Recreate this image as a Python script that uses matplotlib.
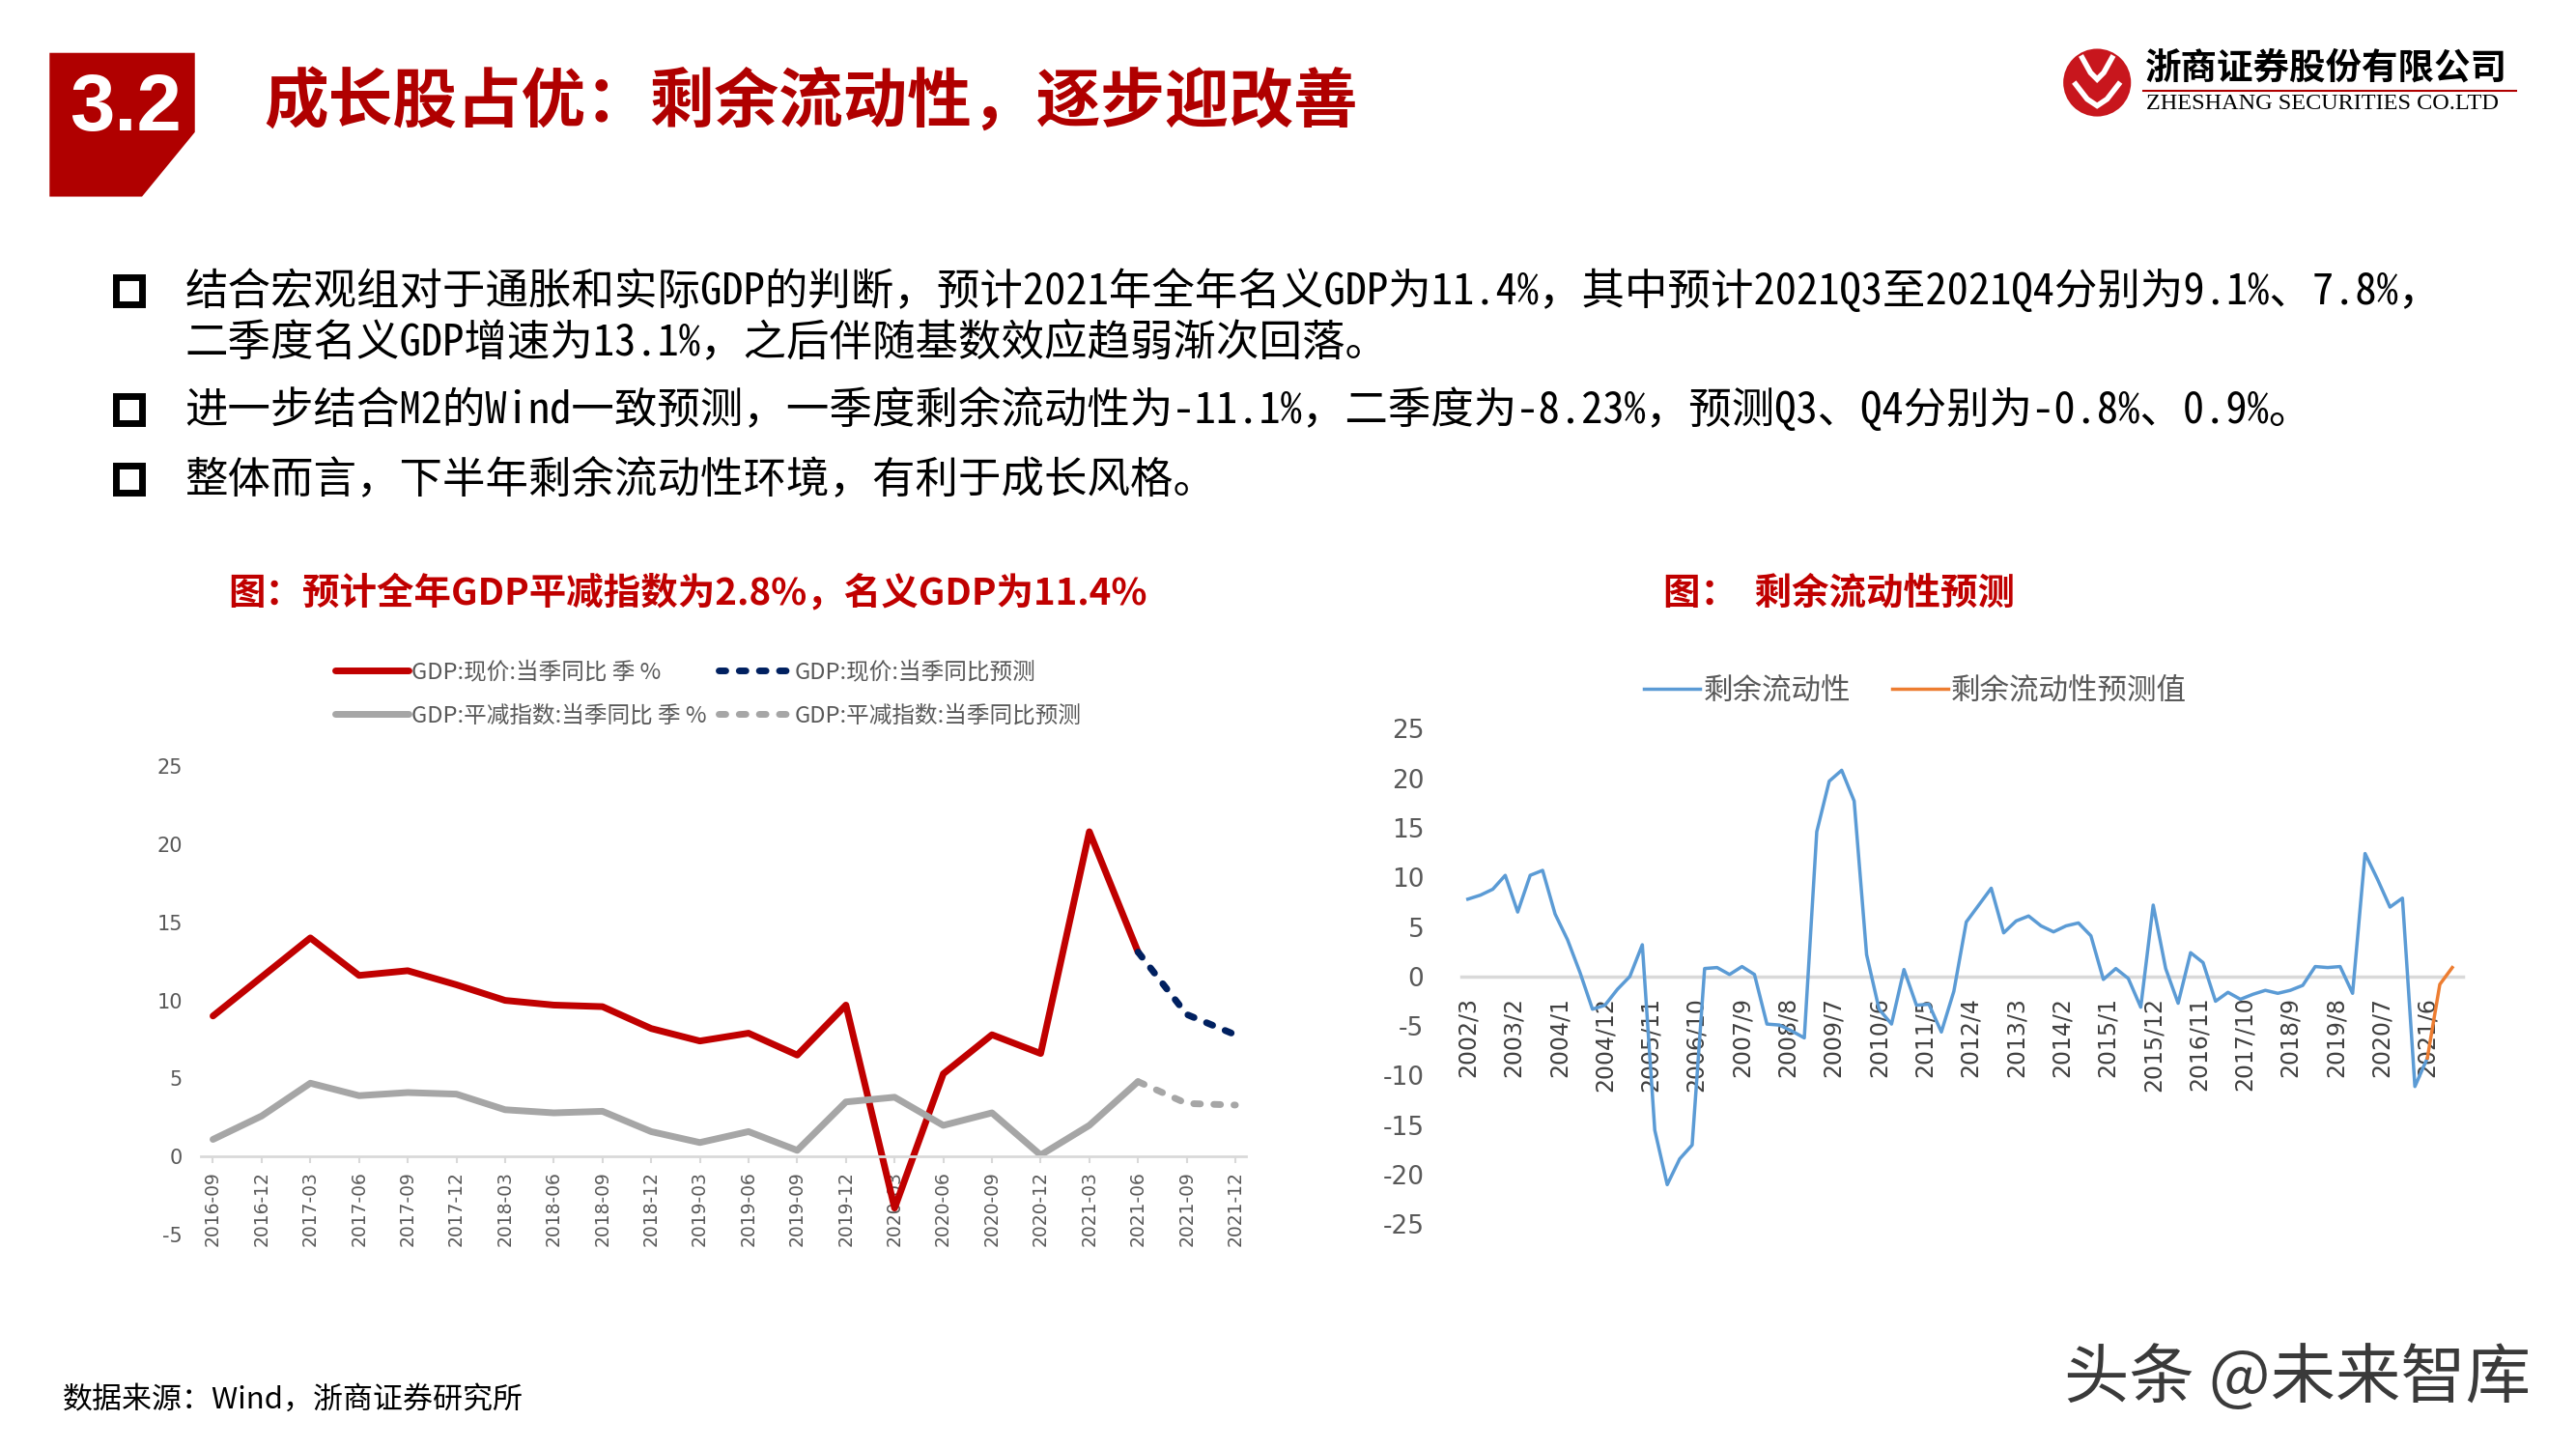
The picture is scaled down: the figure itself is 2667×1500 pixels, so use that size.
import matplotlib
matplotlib.use('Agg')
import matplotlib.pyplot as plt
from matplotlib.patches import Polygon, Rectangle, Ellipse
from matplotlib.lines import Line2D
import numpy as np

plt.rcParams['font.family'] = ['Noto Sans CJK SC', 'DejaVu Sans']
plt.rcParams['axes.unicode_minus'] = False

# ---------------- data ----------------
gdp_quarters = ['2016-09', '2016-12', '2017-03', '2017-06', '2017-09', '2017-12',
                '2018-03', '2018-06', '2018-09', '2018-12', '2019-03', '2019-06',
                '2019-09', '2019-12', '2020-03', '2020-06', '2020-09', '2020-12',
                '2021-03', '2021-06', '2021-09', '2021-12']
nominal_gdp = [9.0, 11.5, 14.0, 11.6, 11.9, 11.0, 10.0, 9.7, 9.6, 8.2, 7.4, 7.9,
               6.5, 9.7, -3.3, 5.3, 7.8, 6.6, 20.8, 13.1]
nominal_gdp_forecast = [13.1, 9.1, 7.8]          # 2021-06 .. 2021-12
deflator = [1.1, 2.6, 4.7, 3.9, 4.1, 4.0, 3.0, 2.8, 2.9, 1.6, 0.9, 1.6,
            0.4, 3.5, 3.8, 2.0, 2.8, 0.1, 2.0, 4.8]
deflator_forecast = [4.8, 3.4, 3.3]              # 2021-06 .. 2021-12

# quarterly excess liquidity, 2002/3 .. 2021/6
liquidity = [7.8, 8.2, 8.8, 10.2, 6.5, 10.2, 10.7, 6.3, 3.7, 0.4, -3.3, -2.9,
             -1.3, 0.0, 3.2, -15.5, -21.0, -18.4, -17.0, 0.8, 0.9, 0.2, 1.0, 0.2,
             -4.8, -4.9, -5.5, -6.2, 14.6, 19.7, 20.8, 17.7, 2.2, -3.3, -4.8, 0.7,
             -2.9, -2.8, -5.6, -1.5, 5.5, 7.2, 8.9, 4.4, 5.6, 6.1, 5.1, 4.5,
             5.1, 5.4, 4.1, -0.3, 0.8, -0.2, -3.1, 7.2, 0.8, -2.7, 2.4, 1.4,
             -2.5, -1.6, -2.3, -1.8, -1.4, -1.7, -1.4, -0.9, 1.0, 0.9, 1.0, -1.7,
             12.4, 9.8, 7.0, 7.9, -11.1, -8.23]
liquidity_forecast = [-8.23, -0.8, 0.9]          # 2021/6 .. 2021/12
liq_start = '2002/3'
liq_ticklabels = ['2002/3', '2003/2', '2004/1', '2004/12', '2005/11', '2006/10',
                  '2007/9', '2008/8', '2009/7', '2010/6', '2011/5', '2012/4',
                  '2013/3', '2014/2', '2015/1', '2015/12', '2016/11', '2017/10',
                  '2018/9', '2019/8', '2020/7', '2021/6']

title = '成长股占优：剩余流动性，逐步迎改善'
bullets = [
    '结合宏观组对于通胀和实际GDP的判断，预计2021年全年名义GDP为11.4%，其中预计2021Q3至2021Q4分别为9.1%、7.8%，',
    '二季度名义GDP增速为13.1%，之后伴随基数效应趋弱渐次回落。',
    '进一步结合M2的Wind一致预测，一季度剩余流动性为-11.1%，二季度为-8.23%，预测Q3、Q4分别为-0.8%、0.9%。',
    '整体而言，下半年剩余流动性环境，有利于成长风格。',
]
left_title = '图：预计全年GDP平减指数为2.8%，名义GDP为11.4%'
right_title = '图：  剩余流动性预测'
source = '数据来源：Wind，浙商证券研究所'

# ---------------- layout helpers ----------------
W, H = 1560.0, 877.0
def FX(x):
    return x / W
def FY(y):
    return 1 - y / H

fig = plt.figure(figsize=(26.67, 15), dpi=100)
fig.patch.set_facecolor('white')

RED = '#B00000'
BODY_FONT = ['Noto Sans Mono CJK SC', 'Noto Sans CJK SC', 'DejaVu Sans']

# header box
box = Polygon([(FX(30), FY(32)), (FX(118), FY(32)), (FX(118), FY(80)),
               (FX(86), FY(119)), (FX(30), FY(119))], closed=True,
              transform=fig.transFigure, facecolor=RED, edgecolor='none')
fig.patches.append(box)
fig.text(FX(76), FY(66), '3.2', color='white', fontsize=60, fontweight='bold',
         family=['Liberation Sans', 'DejaVu Sans'], ha='center', va='center')
fig.text(FX(160), FY(62), title, color=RED, fontsize=48, fontweight='heavy',
         ha='left', va='center')

# logo
fig.patches.append(Ellipse((FX(1270), FY(50)), 41 / W, 41 / H,
                           transform=fig.transFigure, facecolor='#C8161D',
                           edgecolor='none'))
cx, cy = 1270, 50
sym_up = [(cx - 9, cy - 15), (cx - 4, cy - 6), (cx, cy - 2), (cx + 4, cy - 6), (cx + 9, cy - 15)]
sym_dn = [(cx - 13, cy + 1), (cx - 6, cy + 10), (cx, cy + 14), (cx + 6, cy + 10), (cx + 13, cy + 1)]
for pts in (sym_up, sym_dn):
    fig.lines.append(Line2D([FX(p[0]) for p in pts], [FY(p[1]) for p in pts],
                            transform=fig.transFigure, color='white', lw=4,
                            solid_joinstyle='miter'))
fig.text(FX(1299), FY(41), '浙商证券股份有限公司', fontsize=27, fontweight='bold',
         color='black', ha='left', va='center')
fig.lines.append(Line2D([FX(1298), FX(1524)], [FY(55), FY(55)],
                        transform=fig.transFigure, color=RED, lw=1.5))
fig.text(FX(1300), FY(63), 'ZHESHANG SECURITIES CO.LTD', fontsize=17.5,
         family=['Liberation Serif', 'DejaVu Serif'], color='black',
         ha='left', va='center')

# bullets
bullet_y = [176, 207, 248, 290]
for i, (txt, y) in enumerate(zip(bullets, bullet_y)):
    fig.text(FX(112), FY(y), txt, fontsize=32, color='black', ha='left',
             va='center', family=BODY_FONT)
    if i != 1:
        fig.patches.append(Rectangle((FX(70), FY(y + 8)), 16 / W, 16 / H,
                                     transform=fig.transFigure, facecolor='none',
                                     edgecolor='black', lw=5, joinstyle='miter'))

# chart titles
fig.text(FX(138), FY(359), left_title, fontsize=27.7, fontweight='bold',
         color='#C00000', ha='left', va='center')
fig.text(FX(1007), FY(359), right_title, fontsize=27.7, fontweight='bold',
         color='#C00000', ha='left', va='center')

# footer & watermark
fig.text(FX(38), FY(847), source, fontsize=22.3, color='black', ha='left', va='center')
fig.text(FX(1250), FY(835), '头条 @未来智库', fontsize=48.5, color='#3A3A3A',
         ha='left', va='center')

# ---------------- left chart ----------------
axL = fig.add_axes([0.07814, 0.1479, 0.4056, 0.3234])
xq = np.arange(len(gdp_quarters))
na = len(nominal_gdp)
nf = len(nominal_gdp_forecast)
h1, = axL.plot(xq[:na], nominal_gdp, color='#C00000', lw=5,
               solid_joinstyle='round', solid_capstyle='round',
               label='GDP:现价:当季同比 季 %')
h2, = axL.plot(xq[na - 1:na - 1 + nf], nominal_gdp_forecast, color='#002060', lw=5,
               ls=(0, (1, 2)), dash_capstyle='round', label='GDP:现价:当季同比预测')
h3, = axL.plot(xq[:len(deflator)], deflator, color='#A6A6A6', lw=5,
               solid_joinstyle='round', solid_capstyle='round',
               label='GDP:平减指数:当季同比 季 %')
h4, = axL.plot(xq[len(deflator) - 1:len(deflator) - 1 + len(deflator_forecast)],
               deflator_forecast, color='#A6A6A6', lw=5, ls=(0, (1, 2)),
               dash_capstyle='round', label='GDP:平减指数:当季同比预测')
axL.set_xlim(-0.24, 21.22)
axL.set_ylim(-5, 25)
axL.set_yticks(np.arange(-5, 26, 5))
for s in ['top', 'right', 'left']:
    axL.spines[s].set_visible(False)
axL.spines['bottom'].set_position(('data', 0))
axL.spines['bottom'].set_color('#D9D9D9')
axL.spines['bottom'].set_linewidth(2)
axL.set_xticks(xq)
axL.set_xticklabels(gdp_quarters, rotation=90, family='DejaVu Sans')
axL.tick_params(axis='x', length=5, width=1.5, color='#D9D9D9', pad=6,
                labelsize=13.5, labelcolor='#595959')
axL.tick_params(axis='y', length=0, pad=14, labelsize=15, labelcolor='#595959')
for lab in axL.get_yticklabels():
    lab.set_family(['Liberation Sans Narrow', 'DejaVu Sans'])
axL.patch.set_alpha(0)

fig.legend(handles=[h1, h3, h2, h4], loc='center', bbox_to_anchor=(FX(429), FY(420)),
           ncol=2, frameon=False, fontsize=17, handlelength=3.2,
           handletextpad=0.12, columnspacing=0.55, labelspacing=0.95,
           labelcolor='#595959')

# ---------------- right chart ----------------
def month_index(s, start=liq_start):
    y, m = (int(v) for v in s.split('/'))
    y0, m0 = (int(v) for v in start.split('/'))
    return (y - y0) * 12 + (m - m0)

axR = fig.add_axes([0.5674, 0.15507, 0.3886, 0.34208])
mq = 3 * np.arange(len(liquidity))
g1, = axR.plot(mq, liquidity, color='#5B9BD5', lw=2.5, solid_joinstyle='round',
               label='剩余流动性')
mf = mq[-1] + 3 * np.arange(len(liquidity_forecast))
g2, = axR.plot(mf, liquidity_forecast, color='#ED7D31', lw=2.5,
               solid_joinstyle='round', label='剩余流动性预测值')
axR.set_xlim(-1.5, 239.5)
axR.set_ylim(-25, 25)
axR.set_yticks(np.arange(-25, 26, 5))
for s in ['top', 'right', 'left']:
    axR.spines[s].set_visible(False)
axR.spines['bottom'].set_position(('data', 0))
axR.spines['bottom'].set_color('#D9D9D9')
axR.spines['bottom'].set_linewidth(2.5)
axR.spines['bottom'].set_zorder(1)
axR.set_xticks([month_index(t) for t in liq_ticklabels])
axR.set_xticklabels(liq_ticklabels, rotation=90, family='DejaVu Sans')
axR.tick_params(axis='x', length=0, pad=15, labelsize=17, labelcolor='#404040')
axR.tick_params(axis='y', length=0, pad=28, labelsize=19, labelcolor='#595959')
for lab in axR.get_yticklabels():
    lab.set_family(['Liberation Sans Narrow', 'DejaVu Sans'])
axR.patch.set_alpha(0)

fig.legend(handles=[g1, g2], loc='center', bbox_to_anchor=(FX(1160), FY(418)),
           ncol=2, frameon=False, fontsize=22, handlelength=1.9,
           handletextpad=0.1, columnspacing=1.4, labelcolor='#595959')

fig.savefig('out.png', dpi=100, facecolor='white')
